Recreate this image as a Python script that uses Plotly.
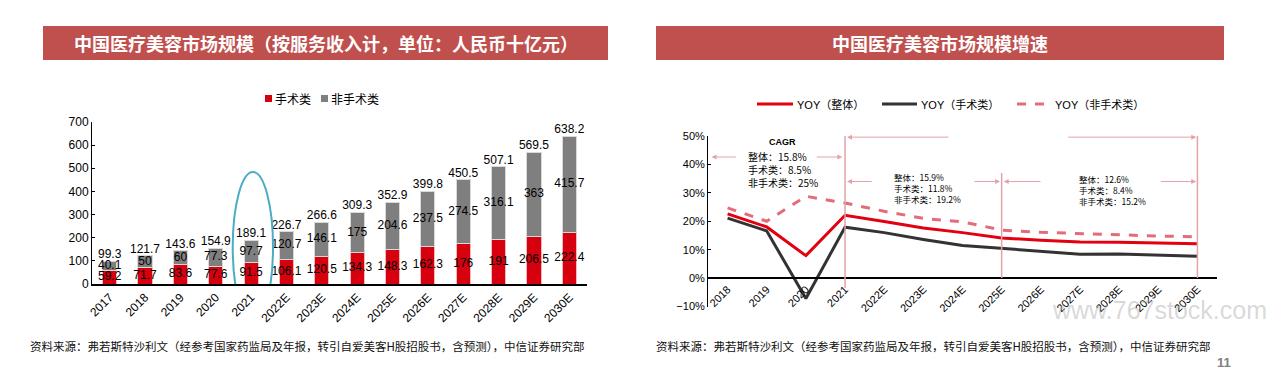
import plotly.graph_objects as go

# ---------------- data ----------------
years_left = ["2017", "2018", "2019", "2020", "2021", "2022E", "2023E", "2024E",
              "2025E", "2026E", "2027E", "2028E", "2029E", "2030E"]
surgical = [59.2, 71.7, 83.6, 77.6, 91.5, 106.1, 120.5, 134.3, 148.3, 162.3, 176, 191, 206.5, 222.4]
non_surgical = [40.1, 50, 60, 77.3, 97.7, 120.7, 146.1, 175, 204.6, 237.5, 274.5, 316.1, 363, 415.7]
totals = [99.3, 121.7, 143.6, 154.9, 189.1, 226.7, 266.6, 309.3, 352.9, 399.8, 450.5, 507.1, 569.5, 638.2]

years_right = ["2018", "2019", "2020", "2021", "2022E", "2023E", "2024E", "2025E",
               "2026E", "2027E", "2028E", "2029E", "2030E"]
yoy_total = [0.226, 0.180, 0.079, 0.221, 0.199, 0.176, 0.160, 0.141, 0.133, 0.127, 0.126, 0.123, 0.121]
yoy_surg = [0.211, 0.166, -0.072, 0.179, 0.160, 0.136, 0.115, 0.104, 0.094, 0.084, 0.085, 0.081, 0.077]
yoy_non = [0.247, 0.200, 0.288, 0.264, 0.235, 0.210, 0.198, 0.169, 0.161, 0.156, 0.152, 0.148, 0.145]

RED = "#D7000F"
GRAY = "#7F7F7F"
LRED = "#E3000F"
DARK = "#333333"
PINK = "#E46C7A"
ARROW = "#E3A3A8"
TITLE_BG = "#C0504D"
LAT = "Liberation Sans, Arial, Noto Sans CJK SC"
CJK = "Noto Sans CJK SC, Liberation Sans"

fig = go.Figure()

# ---------------- left: stacked bars ----------------
fig.add_trace(go.Bar(x=years_left, y=surgical, marker=dict(color=RED, line=dict(color="#F2B8BC", width=1)),
                     xaxis="x", yaxis="y", showlegend=False, hoverinfo="skip"))
fig.add_trace(go.Bar(x=years_left, y=non_surgical, marker=dict(color=GRAY, line=dict(color="#D9D9D9", width=1)),
                     xaxis="x", yaxis="y", showlegend=False, hoverinfo="skip"))
fig.add_trace(go.Scatter(x=years_left, y=[v / 2 for v in surgical], mode="text",
                         text=[f"{v:g}" for v in surgical], textposition="middle center",
                         textfont=dict(family=LAT, size=12, color="#000"), xaxis="x", yaxis="y",
                         showlegend=False, hoverinfo="skip", cliponaxis=False))
fig.add_trace(go.Scatter(x=years_left, y=[s + n / 2 for s, n in zip(surgical, non_surgical)], mode="text",
                         text=[f"{v:g}" for v in non_surgical], textposition="middle center",
                         textfont=dict(family=LAT, size=12, color="#000"), xaxis="x", yaxis="y",
                         showlegend=False, hoverinfo="skip", cliponaxis=False))
fig.add_trace(go.Scatter(x=years_left, y=totals, mode="text",
                         text=[f"{v:g}" for v in totals], textposition="top center",
                         textfont=dict(family=LAT, size=12, color="#000"), xaxis="x", yaxis="y",
                         showlegend=False, hoverinfo="skip", cliponaxis=False))

# ---------------- right: YOY lines ----------------
fig.add_trace(go.Scatter(x=years_right, y=yoy_non, mode="lines", line=dict(color=PINK, width=3, dash="dash"),
                         xaxis="x2", yaxis="y2", showlegend=False, hoverinfo="skip", cliponaxis=False))
fig.add_trace(go.Scatter(x=years_right, y=yoy_surg, mode="lines", line=dict(color=DARK, width=3),
                         xaxis="x2", yaxis="y2", showlegend=False, hoverinfo="skip", cliponaxis=False))
fig.add_trace(go.Scatter(x=years_right, y=yoy_total, mode="lines", line=dict(color=LRED, width=3),
                         xaxis="x2", yaxis="y2", showlegend=False, hoverinfo="skip", cliponaxis=False))

W, H = 1269, 370


def px(x):
    return x / W


def py(y):
    return 1 - y / H


shapes = []
annotations = []

# title bars
for x0, x1, txt in [(43, 608, "中国医疗美容市场规模（按服务收入计，单位：人民币十亿元）"),
                    (656, 1224, "中国医疗美容市场规模增速")]:
    shapes.append(dict(type="rect", xref="paper", yref="paper", x0=px(x0), x1=px(x1), y0=py(60), y1=py(26),
                       fillcolor=TITLE_BG, line=dict(width=0), layer="below"))
    annotations.append(dict(xref="paper", yref="paper", x=px((x0 + x1) / 2), y=py(43), text=f"<b>{txt}</b>",
                            showarrow=False, font=dict(family=CJK, size=18, color="white"),
                            xanchor="center", yanchor="middle"))

# left legend (manual)
for sx, color, label in [(265, RED, "手术类"), (321, GRAY, "非手术类")]:
    shapes.append(dict(type="rect", xref="paper", yref="paper", x0=px(sx), x1=px(sx + 7), y0=py(102), y1=py(95),
                       fillcolor=color, line=dict(width=0)))
    annotations.append(dict(xref="paper", yref="paper", x=px(sx + 8), y=py(98.5), text=label, showarrow=False,
                            font=dict(family=CJK, size=12, color="#000"), xanchor="left", yanchor="middle"))

# right legend (manual)
for x0, x1, color, dash, label in [(757, 793, LRED, "solid", "YOY（整体）"),
                                   (882, 917, DARK, "solid", "YOY（手术类）"),
                                   (1017, 1051, PINK, "dash", "YOY（非手术类）")]:
    shapes.append(dict(type="line", xref="paper", yref="paper", x0=px(x0), x1=px(x1), y0=py(104), y1=py(104),
                       line=dict(color=color, width=3, dash=dash)))
    annotations.append(dict(xref="paper", yref="paper", x=px(x1 + 2), y=py(104), text=label, showarrow=False,
                            font=dict(family=LAT, size=11, color="#000"), xanchor="left", yanchor="middle"))

# ellipse highlight around 2021 bar
shapes.append(dict(type="circle", xref="x", yref="y", x0=3.48, x1=4.62, y0=-165, y1=484,
                   line=dict(color="#4BACC6", width=2)))

# right chart vertical separators
for xi, ytop, ybot in [(3, 0.545, -0.035), (7, 0.37, 0.0), (12, 0.538, 0.0)]:
    shapes.append(dict(type="line", xref="x2", yref="y2", x0=xi, x1=xi, y0=ybot, y1=ytop,
                       line=dict(color=ARROW, width=1.5)))


def arrow(head, tail, y):
    annotations.append(dict(xref="x2", yref="y2", axref="x2", ayref="y2", x=head, y=y, ax=tail, ay=y,
                            text="", showarrow=True, arrowhead=2, arrowsize=1, arrowwidth=1,
                            arrowcolor=ARROW))


arrow(-0.41, 0.25, 0.426)
arrow(2.93, 2.24, 0.426)
arrow(3.05, 5.68, 0.496)
arrow(11.97, 8.66, 0.496)
arrow(3.05, 3.72, 0.34)
arrow(6.96, 6.27, 0.34)
arrow(7.05, 8.03, 0.34)
arrow(11.97, 11.03, 0.34)


def block(x, y, lines, size):
    annotations.append(dict(xref="x2", yref="y2", x=x, y=y, text="<br>".join(lines), showarrow=False,
                            align="left", xanchor="left", yanchor="top",
                            font=dict(family=CJK, size=size, color="#000")))


annotations.append(dict(xref="x2", yref="y2", x=1.4, y=0.479, text="<b>CAGR</b>", showarrow=False,
                        font=dict(family="Liberation Sans Narrow, Liberation Sans", size=9, color="#000")))
annotations.append(dict(xref="x2", yref="y2", x=7.34, y=0.556, text="<b>CAGR</b>", showarrow=False,
                        font=dict(family="Liberation Sans Narrow, Liberation Sans", size=9, color="#000")))
block(0.48, 0.462, ["整体：15.8%", "手术类：8.5%", "非手术类：25%"], 10)
block(6.32, 0.54, ["整体：13.8%", "手术类：9.7%", "非手术类：16.7%"], 10)
block(4.2, 0.385, ["整体：15.9%", "手术类：11.8%", "非手术类：19.2%"], 8.5)
block(8.92, 0.378, ["整体：12.6%", "手术类：8.4%", "非手术类：15.2%"], 8.5)

# watermark
annotations.append(dict(xref="paper", yref="paper", x=px(1050), y=py(310), text="www.767stock.com",
                        showarrow=False, xanchor="left", yanchor="middle",
                        font=dict(family="Liberation Sans", size=25, color="rgba(170,170,170,0.45)")))

# footers
src = "资料来源：弗若斯特沙利文（经参考国家药监局及年报，转引自爱美客H股招股书，含预测），中信证券研究部"
for x0 in (28, 654):
    annotations.append(dict(xref="paper", yref="paper", x=px(x0), y=py(346), text=src, showarrow=False,
                            xanchor="left", yanchor="middle", font=dict(family=CJK, size=11.5, color="#111")))
annotations.append(dict(xref="paper", yref="paper", x=px(1233), y=py(362), text="<b>11</b>", showarrow=False,
                        xanchor="right", yanchor="middle", font=dict(family=LAT, size=13, color="#808080")))

axis_common = dict(showgrid=False, zeroline=False, linecolor="#000", automargin=False,
                   tickfont=dict(family=LAT, size=12, color="#000"))

fig.update_layout(
    template="none",
    width=W, height=H, margin=dict(l=0, r=0, t=0, b=0, pad=0, autoexpand=False),
    paper_bgcolor="white", plot_bgcolor="white",
    barmode="stack", bargap=0.6,
    showlegend=False,
    xaxis=dict(domain=[px(92), px(587)], anchor="y", type="category", categoryorder="array",
               categoryarray=years_left, range=[-0.5, 13.5], showline=True, linewidth=1.5, ticks="",
               tickangle=-45, **axis_common),
    yaxis=dict(domain=[py(284), py(122)], anchor="x", range=[0, 700], dtick=100, showline=True, linewidth=1,
               ticks="inside", ticklen=3, tickcolor="#000", **axis_common),
    xaxis2=dict(domain=[px(708), px(1217)], anchor="free", position=py(278), type="category",
                categoryorder="array", categoryarray=years_right, range=[-0.5, 12.5], showline=True,
                linewidth=1.5, ticks="", tickangle=-45, showgrid=False, zeroline=False, linecolor="#000",
                automargin=False, tickfont=dict(family=LAT, size=11, color="#000")),
    yaxis2=dict(domain=[py(306.5), py(136)], anchor="x2", range=[-0.1, 0.5], dtick=0.1, tickformat=".0%",
                showline=True, linewidth=1, ticks="inside", ticklen=3, tickcolor="#000", showgrid=False,
                zeroline=False, linecolor="#000", automargin=False,
                tickfont=dict(family=LAT, size=11, color="#000")),
    shapes=shapes,
    annotations=annotations,
)

fig.write_html("out.html", config={"displayModeBar": False},
               post_script="document.body.style.margin='0';document.body.style.overflow='hidden';")
